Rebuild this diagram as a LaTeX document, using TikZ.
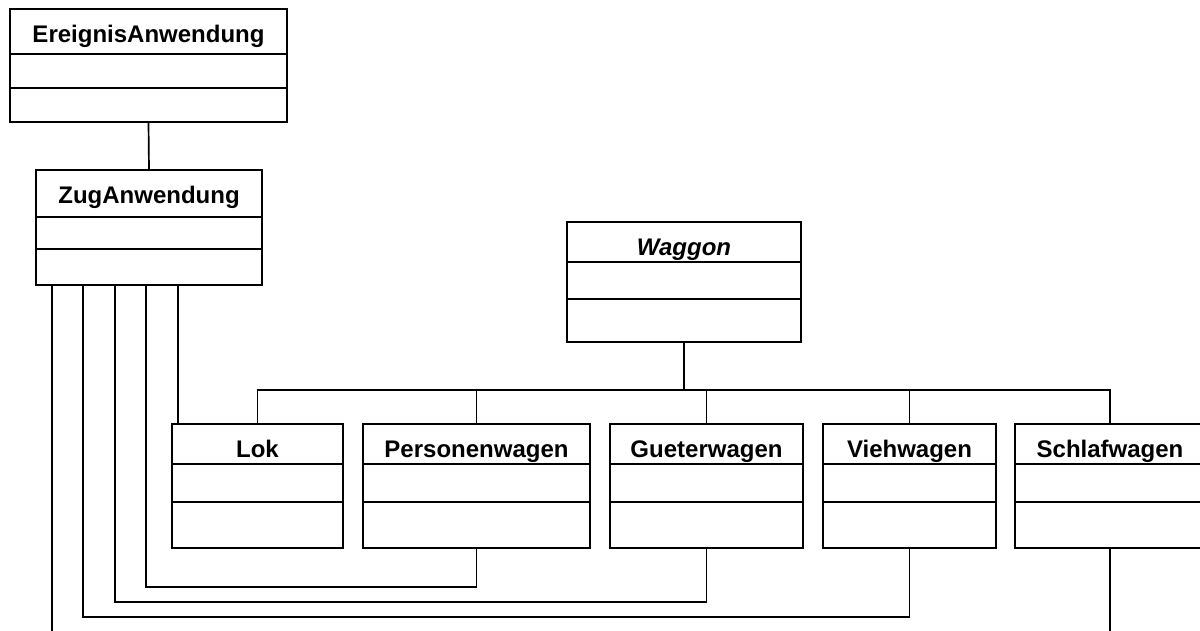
\documentclass[tikz,border=0pt]{standalone}
\usepackage{fontspec}
\setmainfont{Liberation Sans}
\begin{document}
\begin{tikzpicture}[x=1pt,y=-1pt,
  classbox/.style={draw, line width=1.8pt, rectangle, outer sep=0pt, inner sep=0pt},
  rule/.style={line width=1.8pt},
  classname/.style={font=\fontsize{24}{28}\selectfont\bfseries, inner sep=0pt, anchor=base},
  link/.style={line width=1.7pt}]
\useasboundingbox (0,0) rectangle (1200,630);
\clip (0,0) rectangle (1200,630);

% class box: name, left, right, top, first rule, second rule, bottom, title
\newcommand\umlclass[8]{%
  \node[classbox, minimum width={#3-#2}, minimum height={#7-#4}, anchor=north west] (#1) at (#2,#4) {};
  \draw[rule] (#2,#5) -- (#3,#5) (#2,#6) -- (#3,#6);
  \node[classname] (#1-name) at ({(#2+#3)/2},{#4+33}) {#8};
}

\umlclass{erei}{10}{287}{9}{54}{88}{122}{EreignisAnwendung}
\umlclass{zug}{36}{262}{170}{217}{249}{285}{ZugAnwendung}
\umlclass{waggon}{567}{801}{222}{262}{299}{342}{\itshape Waggon}
\umlclass{lok}{172}{343}{424}{464}{502}{548}{Lok}
\umlclass{pw}{363}{590}{424}{464}{502}{548}{Personenwagen}
\umlclass{gw}{610}{803}{424}{464}{502}{548}{Gueterwagen}
\umlclass{vw}{823}{996}{424}{464}{502}{548}{Viehwagen}
\umlclass{sw}{1015}{1205}{424}{464}{502}{548}{Schlafwagen}

% EreignisAnwendung -- ZugAnwendung
\draw[link] (erei.south) -- (zug.north);

% Waggon and its subclasses
\draw[link] (waggon.south) -- ++(0,48) coordinate (bus);
\foreach \c in {lok,pw,gw,vw,sw}
  \draw[link] (bus) -| (\c.north);

% ZugAnwendung to the carriages
\draw[link] ([xshift=142pt]zug.south west) coordinate (z1) -- (z1 |- lok.north);
\draw[link] ([xshift=110pt]zug.south west) -- ++(0,302) -| (pw.south);
\draw[link] ([xshift=79pt]zug.south west) -- ++(0,317) -| (gw.south);
\draw[link] ([xshift=47pt]zug.south west) -- ++(0,332) -| (vw.south);
\draw[link] ([xshift=16pt]zug.south west) -- ++(0,360) -| (sw.south);
\end{tikzpicture}
\end{document}
